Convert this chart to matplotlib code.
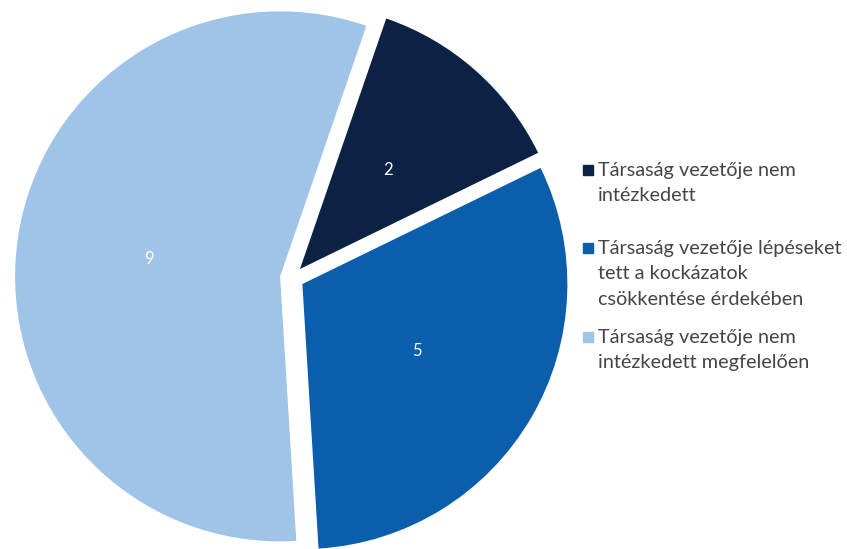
import matplotlib
matplotlib.use("Agg")
import matplotlib.pyplot as plt
from matplotlib.patches import Rectangle

labels = [
    "Társaság vezetője nem\nintézkedett",
    "Társaság vezetője lépéseket\ntett a kockázatok\ncsökkentése érdekében",
    "Társaság vezetője nem\nintézkedett megfelelően",
]
counts = [2, 5, 9]
colors = ["#0b2245", "#0b5eac", "#9fc4e7"]

W, H = 847, 549
fig = plt.figure(figsize=(W / 100, H / 100), dpi=100)
ax = fig.add_axes([0, 0, 1, 1])

# pie in pixel-like data coordinates, explode offset is in the same units
wedges, _, autotexts = ax.pie(
    counts,
    colors=colors,
    startangle=71,
    counterclock=False,
    explode=[12] * len(counts),
    center=(292, H - 278),
    radius=265,
    autopct=lambda p: f"{p * sum(counts) / 100:.0f}",
    pctdistance=0.5,
    wedgeprops=dict(linewidth=0),
    textprops=dict(color="white", fontsize=12, family="Lato"),
)
ax.set_xlim(0, W)
ax.set_ylim(0, H)
ax.set_aspect("equal")
ax.axis("off")

# legend entries drawn by hand for uneven spacing
first_line_y = [170, 248, 337]
for lab, col, y in zip(labels, colors, first_line_y):
    fig.patches.append(Rectangle((583 / W, 1 - (y + 5) / H), 10 / W, 10 / H,
                                 transform=fig.transFigure, color=col))
    fig.text(598 / W, 1 - (y - 8) / H, lab, fontsize=14.3, family="Lato",
             color="#454545", va="top", ha="left", linespacing=1.6)

fig.savefig("out.png", dpi=100)
